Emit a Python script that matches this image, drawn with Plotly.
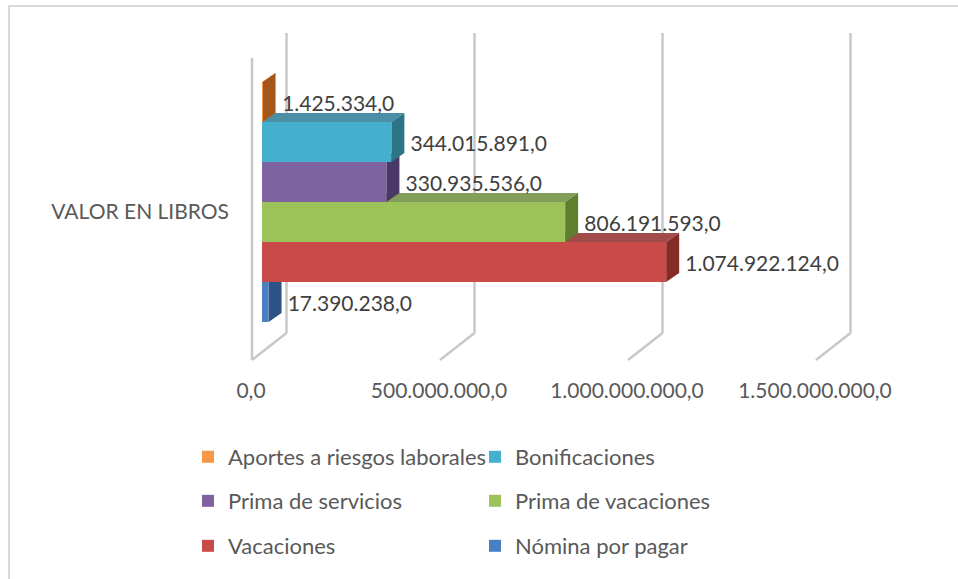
import plotly.graph_objects as go

# ---------------- data ----------------
category = ["VALOR EN LIBROS"]
series_names = [
    "Aportes a riesgos laborales",
    "Bonificaciones",
    "Prima de servicios",
    "Prima de vacaciones",
    "Vacaciones",
    "Nómina por pagar",
]
series_values = [
    1425334.0,
    344015891.0,
    330935536.0,
    806191593.0,
    1074922124.0,
    17390238.0,
]
tick_values = [0, 500000000, 1000000000, 1500000000]

# ---------------- style ----------------
front_colors = ["#F79646", "#45B0CD", "#7E63A1", "#9CC25A", "#C94A48", "#4A80C2"]
top_colors = ["#C9702A", "#4A8FA5", "#5F4B7C", "#829E58", "#A04C4A", "#3A659A"]
side_colors = ["#A5561B", "#2E7487", "#4A3966", "#5F7F2E", "#872B28", "#2C5286"]
legend_groups = ["legend", "legend", "legend2", "legend2", "legend3", "legend3"]

FONT = "Lato"
W, H = 958, 579
PLOT_L, PLOT_R = 245, 855
PLOT_T, PLOT_B = 33, 360
X0_PX = 262                 # pixel of value 0 on the bar front plane
PX_PER_UNIT = 376 / 1e9
XMIN = -(X0_PX - PLOT_L) / PX_PER_UNIT
XMAX = (PLOT_R - X0_PX) / PX_PER_UNIT
PLOT_HPX = PLOT_B - PLOT_T
GROUP_CENTER_PX = 202
BAR_PX = 40
N = len(series_values)
GROUP_PX = BAR_PX * N
Y_TOP = -(GROUP_CENTER_PX - PLOT_T) / PLOT_HPX
Y_BOT = (PLOT_B - GROUP_CENTER_PX) / PLOT_HPX
DEPTH_X, DEPTH_Y = 13, 9

fig = go.Figure()
for i, (name, val) in enumerate(zip(series_names, series_values)):
    fig.add_trace(go.Bar(
        y=category, x=[val], name=name, orientation="h",
        marker=dict(color=front_colors[i], line=dict(width=0)),
        text=[val], texttemplate="\u00a0\u00a0\u00a0%{x:,.1f}",
        textposition="outside", cliponaxis=False, constraintext="none",
        textfont=dict(family=FONT, size=21, color="#404040"),
        legend=legend_groups[i], showlegend=True, hoverinfo="skip",
    ))

shapes = []
# 3D-style gridlines (back vertical + floor diagonal)
for t in tick_values:
    shapes.append(dict(type="line", layer="below", xref="x", yref="paper",
                       xsizemode="pixel", xanchor=t, ysizemode="pixel", yanchor=0,
                       x0=24.5, x1=24.5, y0=27, y1=PLOT_HPX,
                       line=dict(color="#C8C8C8", width=2.5)))
    shapes.append(dict(type="line", layer="below", xref="x", yref="paper",
                       xsizemode="pixel", xanchor=t, ysizemode="pixel", yanchor=0,
                       x0=24.5, x1=-10, y0=27, y1=0,
                       line=dict(color="#C8C8C8", width=2.5)))
# left wall front edge
shapes.append(dict(type="line", layer="below", xref="x", yref="paper",
                   xsizemode="pixel", xanchor=tick_values[0], ysizemode="pixel", yanchor=0,
                   x0=-10, x1=-10, y0=0, y1=302,
                   line=dict(color="#C8C8C8", width=2.5)))

# 3D faces of each bar (drawn from bottom bar upward)
dx_data = DEPTH_X / PX_PER_UNIT
bar_unit = BAR_PX / PLOT_HPX
group_unit = GROUP_PX / PLOT_HPX
for i in reversed(range(N)):
    v = series_values[i]
    top_edge = -group_unit / 2 + i * bar_unit
    shapes.append(dict(type="path", layer="below", xref="x", yref="y",
                       ysizemode="pixel", yanchor=top_edge,
                       path=f"M0,0 L{v},0 L{v + dx_data},{DEPTH_Y} L{dx_data},{DEPTH_Y} Z",
                       fillcolor=top_colors[i], line=dict(width=0)))
    shapes.append(dict(type="path", layer="below", xref="x", yref="y",
                       xsizemode="pixel", xanchor=v, ysizemode="pixel", yanchor=top_edge,
                       path=f"M0,0 L{DEPTH_X},{DEPTH_Y} L{DEPTH_X},{DEPTH_Y - BAR_PX} L0,{-BAR_PX} Z",
                       fillcolor=side_colors[i], line=dict(width=0)))

# outer chart frame
pw = PLOT_R - PLOT_L
ph = PLOT_B - PLOT_T
shapes.append(dict(type="rect", layer="above", xref="paper", yref="paper",
                   x0=(9 - PLOT_L) / pw, x1=(W + 20 - PLOT_L) / pw,
                   y0=(PLOT_B - (H + 20)) / ph, y1=(PLOT_B - 6) / ph,
                   line=dict(color="#D9D9D9", width=2), fillcolor="rgba(0,0,0,0)"))

legend_common = dict(orientation="h", xref="container", yref="container",
                     xanchor="left", yanchor="middle", entrywidth=242,
                     font=dict(family=FONT, size=22, color="#595959"),
                     bgcolor="rgba(0,0,0,0)", itemclick=False)

fig.update_layout(
    width=W, height=H,
    margin=dict(l=PLOT_L, r=W - PLOT_R, t=PLOT_T, b=H - PLOT_B, pad=0),
    paper_bgcolor="white", plot_bgcolor="rgba(0,0,0,0)",
    barmode="group", bargap=1 - GROUP_PX / PLOT_HPX, bargroupgap=0,
    separators=",.",
    font=dict(family=FONT, color="#595959"),
    xaxis=dict(range=[XMIN, XMAX], tickvals=tick_values, tickformat=",.1f",
               showgrid=False, zeroline=False, showline=False, ticks="",
               ticklabelshift=-11, ticklabelstandoff=16,
               tickfont=dict(family=FONT, size=21, color="#595959")),
    yaxis=dict(range=[Y_BOT, Y_TOP], showgrid=False, zeroline=False, showline=False,
               ticks="", ticklabelshift=-10, ticklabelstandoff=15,
               tickfont=dict(family=FONT, size=21, color="#595959")),
    legend=dict(x=188 / W, y=1 - 457 / H, **legend_common),
    legend2=dict(x=188 / W, y=1 - 501 / H, **legend_common),
    legend3=dict(x=188 / W, y=1 - 546 / H, **legend_common),
    shapes=shapes,
    showlegend=True,
)

fig.write_html("out.html", config={"displayModeBar": False},
               post_script="document.body.style.margin='0';document.body.style.overflow='hidden';")
